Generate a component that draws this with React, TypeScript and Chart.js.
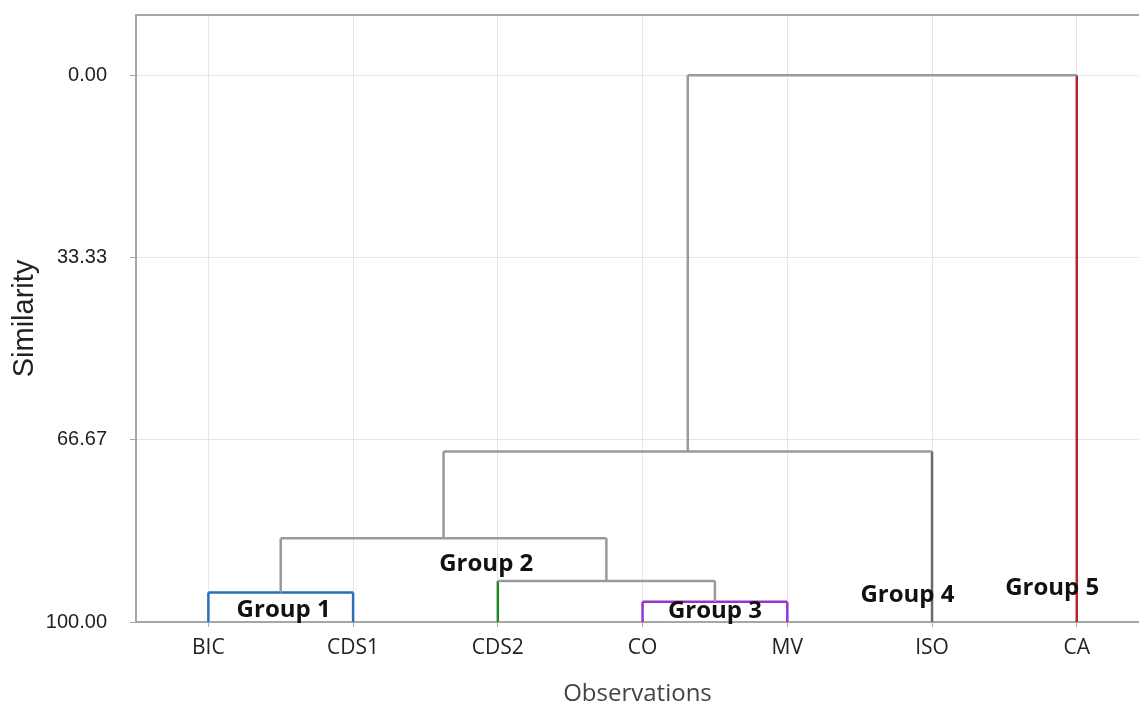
import React, { useEffect, useRef } from "react";
import { Chart, registerables } from "chart.js";

Chart.register(...registerables);

// ---- data ----
const observations = ["BIC", "CDS1", "CDS2", "CO", "MV", "ISO", "CA"];
const similarityTicks = [0, 33.33, 66.67, 100];
// linkage: leaves are 0..6, merged clusters get ids 7, 8, ...
const mergeLeft = [0, 3, 2, 7, 10, 11];
const mergeRight = [1, 4, 8, 9, 5, 6];
const mergeHeights = [94.6, 96.3, 92.5, 84.7, 68.8, 0];
const leafColors = ["#2a6ebb", "#2a6ebb", "#1f8a24", "#9b30d0", "#9b30d0", "#6a6a6a", "#b3262b"];
const mergeColors = ["#2a6ebb", "#9b30d0", "#9a9a9a", "#9a9a9a", "#9a9a9a", "#9a9a9a"];
const linkGray = "#9a9a9a";
const groupLabels = ["Group 1", "Group 2", "Group 3", "Group 4", "Group 5"];
const groupX = [0.52, 1.92, 3.5, 4.83, 5.83];
const groupY = [97.8, 89.4, 98.1, 95.1, 93.9];

function buildSegments() {
  const pos: number[] = observations.map((_, i) => i);
  const height: number[] = observations.map(() => 100);
  const segs: { pts: { x: number; y: number }[]; color: string }[] = [];
  mergeHeights.forEach((h, i) => {
    const l = mergeLeft[i];
    const r = mergeRight[i];
    const lc = l < observations.length ? leafColors[l] : linkGray;
    const rc = r < observations.length ? leafColors[r] : linkGray;
    segs.push({ pts: [{ x: pos[l], y: height[l] }, { x: pos[l], y: h }], color: lc });
    segs.push({ pts: [{ x: pos[r], y: height[r] }, { x: pos[r], y: h }], color: rc });
    segs.push({ pts: [{ x: pos[l], y: h }, { x: pos[r], y: h }], color: mergeColors[i] });
    pos.push((pos[l] + pos[r]) / 2);
    height.push(h);
  });
  // draw gray first, colored on top
  segs.sort((a, b) => (a.color === linkGray ? 0 : 1) - (b.color === linkGray ? 0 : 1));
  return segs;
}

const frameAndLabels = {
  id: "frameAndLabels",
  beforeDatasetsDraw(chart: any) {
    const { ctx, chartArea } = chart;
    ctx.save();
    ctx.strokeStyle = "#a6a6a6";
    ctx.lineWidth = 2;
    ctx.beginPath();
    ctx.moveTo(chartArea.left, chartArea.top);
    ctx.lineTo(chartArea.right, chartArea.top);
    ctx.stroke();
    ctx.restore();
  },
  afterDatasetsDraw(chart: any) {
    const { ctx } = chart;
    const xs = chart.scales.x;
    const ys = chart.scales.y;
    ctx.save();
    ctx.font = "bold 24px 'Open Sans'";
    ctx.fillStyle = "#111";
    ctx.textAlign = "center";
    ctx.textBaseline = "middle";
    groupLabels.forEach((t, i) => {
      ctx.fillText(t, xs.getPixelForValue(groupX[i]), ys.getPixelForValue(groupY[i]));
    });
    ctx.restore();
  },
};

export default function App() {
  const ref = useRef<HTMLCanvasElement | null>(null);
  useEffect(() => {
    document.body.style.margin = "0";
    const segs = buildSegments();
    const chart = new Chart(ref.current as HTMLCanvasElement, {
      type: "line",
      data: {
        datasets: segs.map((s) => ({
          data: s.pts,
          borderColor: s.color,
          borderWidth: 2.5,
          pointRadius: 0,
          fill: false,
          tension: 0,
        })),
      },
      options: {
        animation: false,
        responsive: false,
        layout: { padding: { top: 15, right: 0, left: 0, bottom: 0 } },
        plugins: { legend: { display: false }, tooltip: { enabled: false } },
        scales: {
          x: {
            type: "linear",
            min: -0.5,
            max: 6.43,
            afterBuildTicks: (s: any) => {
              s.ticks = observations.map((_, i) => ({ value: i }));
            },
            afterFit: (s: any) => {
              s.height = 82;
              s.paddingLeft = 0;
              s.paddingRight = 0;
            },
            ticks: {
              callback: (v: any) => observations[v as number] ?? "",
              font: { family: "'Open Sans'", size: 21 },
              color: "#222",
              padding: 8,
              maxRotation: 0,
              autoSkip: false,
            },
            grid: { color: "#e6e6e6", lineWidth: 1, tickLength: 5, tickColor: "#a6a6a6" },
            border: { color: "#a6a6a6", width: 2 },
            title: {
              display: true,
              text: "Observations",
              font: { family: "'Open Sans'", size: 24, lineHeight: 0.85 },
              color: "#444",
              padding: { top: 0, bottom: 0 },
            },
          },
          y: {
            type: "linear",
            reverse: true,
            min: -11,
            max: 100,
            afterBuildTicks: (s: any) => {
              s.ticks = similarityTicks.map((v) => ({ value: v }));
            },
            afterFit: (s: any) => {
              s.width = 136;
              s.paddingTop = 0;
              s.paddingBottom = 0;
            },
            ticks: {
              callback: (v: any) => Number(v).toFixed(2),
              font: { family: "'Liberation Sans'", size: 20 },
              color: "#222",
              padding: 23,
            },
            grid: { color: "#e6e6e6", lineWidth: 1, tickLength: 6, tickColor: "#a6a6a6" },
            border: { color: "#a6a6a6", width: 2 },
            title: {
              display: true,
              text: "Similarity",
              font: { family: "'Liberation Sans'", size: 29, lineHeight: 1.2 },
              color: "#222",
              padding: { top: 8, bottom: 0 },
            },
          },
        },
      },
      plugins: [frameAndLabels],
    });
    return () => chart.destroy();
  }, []);
  return <canvas ref={ref} width={1139} height={704} style={{ display: "block" }} />;
}
